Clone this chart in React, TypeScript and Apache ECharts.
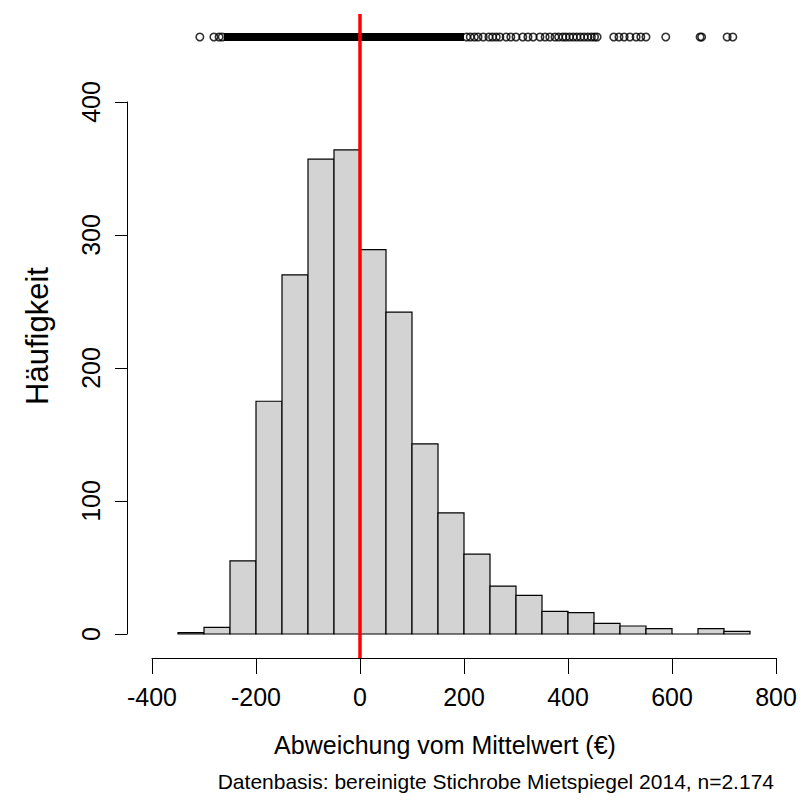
import React, { useEffect, useRef } from "react";
import * as echarts from "echarts";

// Histogram bins (width 50) and counts
const binEdges = [-350, -300, -250, -200, -150, -100, -50, 0, 50, 100, 150, 200, 250, 300, 350, 400, 450, 500, 550, 600, 650, 700, 750];
const counts = [1, 5, 55, 175, 270, 357, 364, 289, 242, 143, 91, 60, 36, 29, 17, 16, 8, 6, 4, 0, 4, 2];

// Strip chart above: dense band of overlapping points, plus individually visible points
const denseBand = [-262, 200];
const stripPoints = [-308, -281, -271, -265, 205, 212, 220, 227, 237, 248, 255, 262, 269, 281, 290, 300, 313, 323, 333, 346, 356, 365, 375, 382, 390, 396, 403, 410, 417, 424, 431, 438, 445, 451, 456, 488, 498, 508, 519, 531, 540, 550, 588, 654, 657, 706, 717];

const meanValue = 0;
const xTicks = [-400, -200, 0, 200, 400, 600, 800];
const yTicks = [0, 100, 200, 300, 400];

const xTitle = "Abweichung vom Mittelwert (€)";
const yTitle = "Häufigkeit";
const subTitle = "Datenbasis: bereinigte Stichrobe Mietspiegel 2014, n=2.174";

const FONT = "'Liberation Sans', Arial, Helvetica, sans-serif";

export default function App() {
  const ref = useRef<HTMLDivElement>(null);
  useEffect(() => {
    if (!ref.current) return;
    const chart = echarts.init(ref.current, undefined, { renderer: "svg" });
    const histData = counts.map((c, i) => [binEdges[i], binEdges[i + 1], c]);
    const xMin = xTicks[0];
    const xMax = xTicks[xTicks.length - 1];
    const xInterval = xTicks[1] - xTicks[0];
    const yMax = yTicks[yTicks.length - 1];
    const yInterval = yTicks[1] - yTicks[0];

    const option: any = {
      animation: false,
      backgroundColor: "#ffffff",
      textStyle: { fontFamily: FONT },
      grid: [
        { left: 152, right: 25, top: 102, bottom: 176 },
        { left: 152, right: 25, top: 14, bottom: 152 },
        { left: 152, right: 25, top: 29, height: 16 },
      ],
      xAxis: [
        {
          gridIndex: 0,
          type: "value",
          min: xMin,
          max: xMax,
          interval: xInterval,
          position: "bottom",
          offset: 24,
          axisLine: { show: true, onZero: false, lineStyle: { color: "#000", width: 1 } },
          axisTick: { show: true, length: 16, lineStyle: { color: "#000", width: 1 } },
          axisLabel: { color: "#000", fontSize: 25, fontFamily: FONT, margin: 26, showMinLabel: true, showMaxLabel: true },
          splitLine: { show: false },
        },
        { gridIndex: 1, type: "value", min: xMin, max: xMax, show: false },
        { gridIndex: 2, type: "value", min: xMin, max: xMax, show: false },
      ],
      yAxis: [
        {
          gridIndex: 0,
          type: "value",
          min: 0,
          max: yMax,
          interval: yInterval,
          position: "left",
          offset: 25,
          axisLine: { show: true, onZero: false, lineStyle: { color: "#000", width: 1 } },
          axisTick: { show: true, length: 12, lineStyle: { color: "#000", width: 1 } },
          axisLabel: { color: "#000", fontSize: 25, fontFamily: FONT, rotate: 90, margin: 24 },
          splitLine: { show: false },
        },
        { gridIndex: 1, type: "value", min: 0, max: 1, show: false },
        { gridIndex: 2, type: "value", min: -1, max: 1, show: false },
      ],
      series: [
        {
          type: "custom",
          xAxisIndex: 0,
          yAxisIndex: 0,
          data: histData,
          renderItem: (params: any, api: any) => {
            const p0 = api.coord([api.value(0), api.value(2)]);
            const p1 = api.coord([api.value(1), 0]);
            return {
              type: "polygon",
              shape: {
                points: [
                  [p0[0], p1[1]],
                  [p0[0], p0[1]],
                  [p1[0], p0[1]],
                  [p1[0], p1[1]],
                ],
              },
              style: { fill: "#d3d3d3", stroke: "#000", lineWidth: 1.2 },
            };
          },
          z: 2,
        },
        {
          type: "line",
          xAxisIndex: 2,
          yAxisIndex: 2,
          data: [[denseBand[0], 0], [denseBand[1], 0]],
          symbol: "none",
          lineStyle: { color: "#000", width: 8, cap: "butt" },
          z: 3,
        },
        {
          type: "scatter",
          xAxisIndex: 2,
          yAxisIndex: 2,
          data: stripPoints.map((v) => [v, 0]),
          symbol: "circle",
          symbolSize: 7.5,
          itemStyle: { color: "rgba(255,255,255,0)", borderColor: "#000", borderWidth: 1.6 },
          z: 3,
        },
        {
          type: "line",
          xAxisIndex: 1,
          yAxisIndex: 1,
          data: [],
          markLine: {
            silent: true,
            symbol: ["none", "none"],
            label: { show: false },
            lineStyle: { color: "#ff0000", width: 3.5, type: "solid" },
            data: [{ xAxis: meanValue }],
          },
          z: 10,
        },
      ],
      graphic: [
        {
          type: "text",
          x: 445,
          y: 745,
          style: { text: xTitle, font: `25px ${FONT}`, fill: "#000", textAlign: "center", textVerticalAlign: "middle" },
        },
        {
          type: "text",
          x: 37,
          y: 336,
          rotation: Math.PI / 2,
          style: { text: yTitle, font: `31px ${FONT}`, fill: "#000", textAlign: "center", textVerticalAlign: "middle" },
        },
        {
          type: "text",
          x: 774,
          y: 781,
          style: { text: subTitle, font: `21px ${FONT}`, fill: "#000", textAlign: "right", textVerticalAlign: "middle" },
        },
      ],
    };
    chart.setOption(option);
    return () => chart.dispose();
  }, []);
  return <div ref={ref} style={{ position: "fixed", left: 0, top: 0, width: 801, height: 810 }} />;
}
